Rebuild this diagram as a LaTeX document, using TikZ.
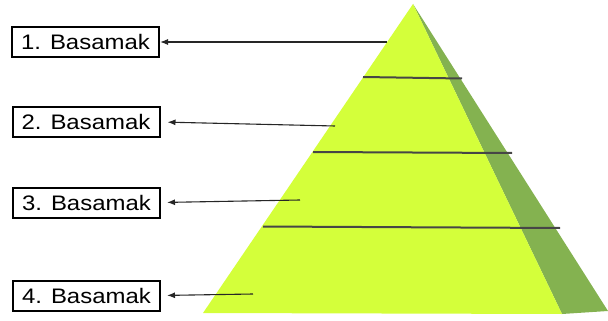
\documentclass[tikz,border=0pt]{standalone}
\usepackage{fontspec}
\newfontfamily\labelfont[FakeStretch=1.14]{Liberation Sans}
\usetikzlibrary{arrows.meta}
\definecolor{limefront}{RGB}{212,255,58}
\definecolor{greenside}{RGB}{132,178,80}
\definecolor{stepline}{RGB}{70,70,70}

\begin{document}
\begin{tikzpicture}[
 x=1pt, y=-1pt,
 box/.style={rectangle, draw, line width=2pt, minimum width=147pt, minimum height=30pt, inner sep=0pt, font=\labelfont\fontsize{21}{22}\selectfont},
 arrow/.style={-{Latex[length=8pt,width=6pt]}, line width=1.1pt, draw=black!85},
 level/.style={line width=2pt, draw=stepline}
 ]
 \useasboundingbox (0,0) rectangle (608,321);
 % Pyramid
 \fill[greenside] (413,4) -- (608,311) -- (562,314) -- cycle;
 \fill[limefront] (413,4) -- (203,313) -- (562,314) -- cycle;
 \draw[level] (363,77) -- (462,78.5);
 \draw[level] (313,152) -- (512,153);
 \draw[level] (263,226.5) -- (560,228);
 % Labels
 \node[box] (b1) at (85.5,42) {1. Basamak};
 \node[box] (b2) at (86,122) {2. Basamak};
 \node[box] (b3) at (86.5,202.5) {3. Basamak};
 \node[box] (b4) at (86.5,295.5) {4. Basamak};
 \coordinate (p1) at (387,42);
 \coordinate (p2) at (335,126);
 \coordinate (p3) at (300,200);
 \coordinate (p4) at (253,294);
 % Arrows
 \draw[arrow] (p1) -- (b1.east);
 \draw[arrow, shorten >=7pt] (p2) -- (b2.east);
 \draw[arrow, shorten >=6pt] (p3) -- (b3.east);
 \draw[arrow, shorten >=6pt] (p4) -- (b4.east);
\end{tikzpicture}
\end{document}
